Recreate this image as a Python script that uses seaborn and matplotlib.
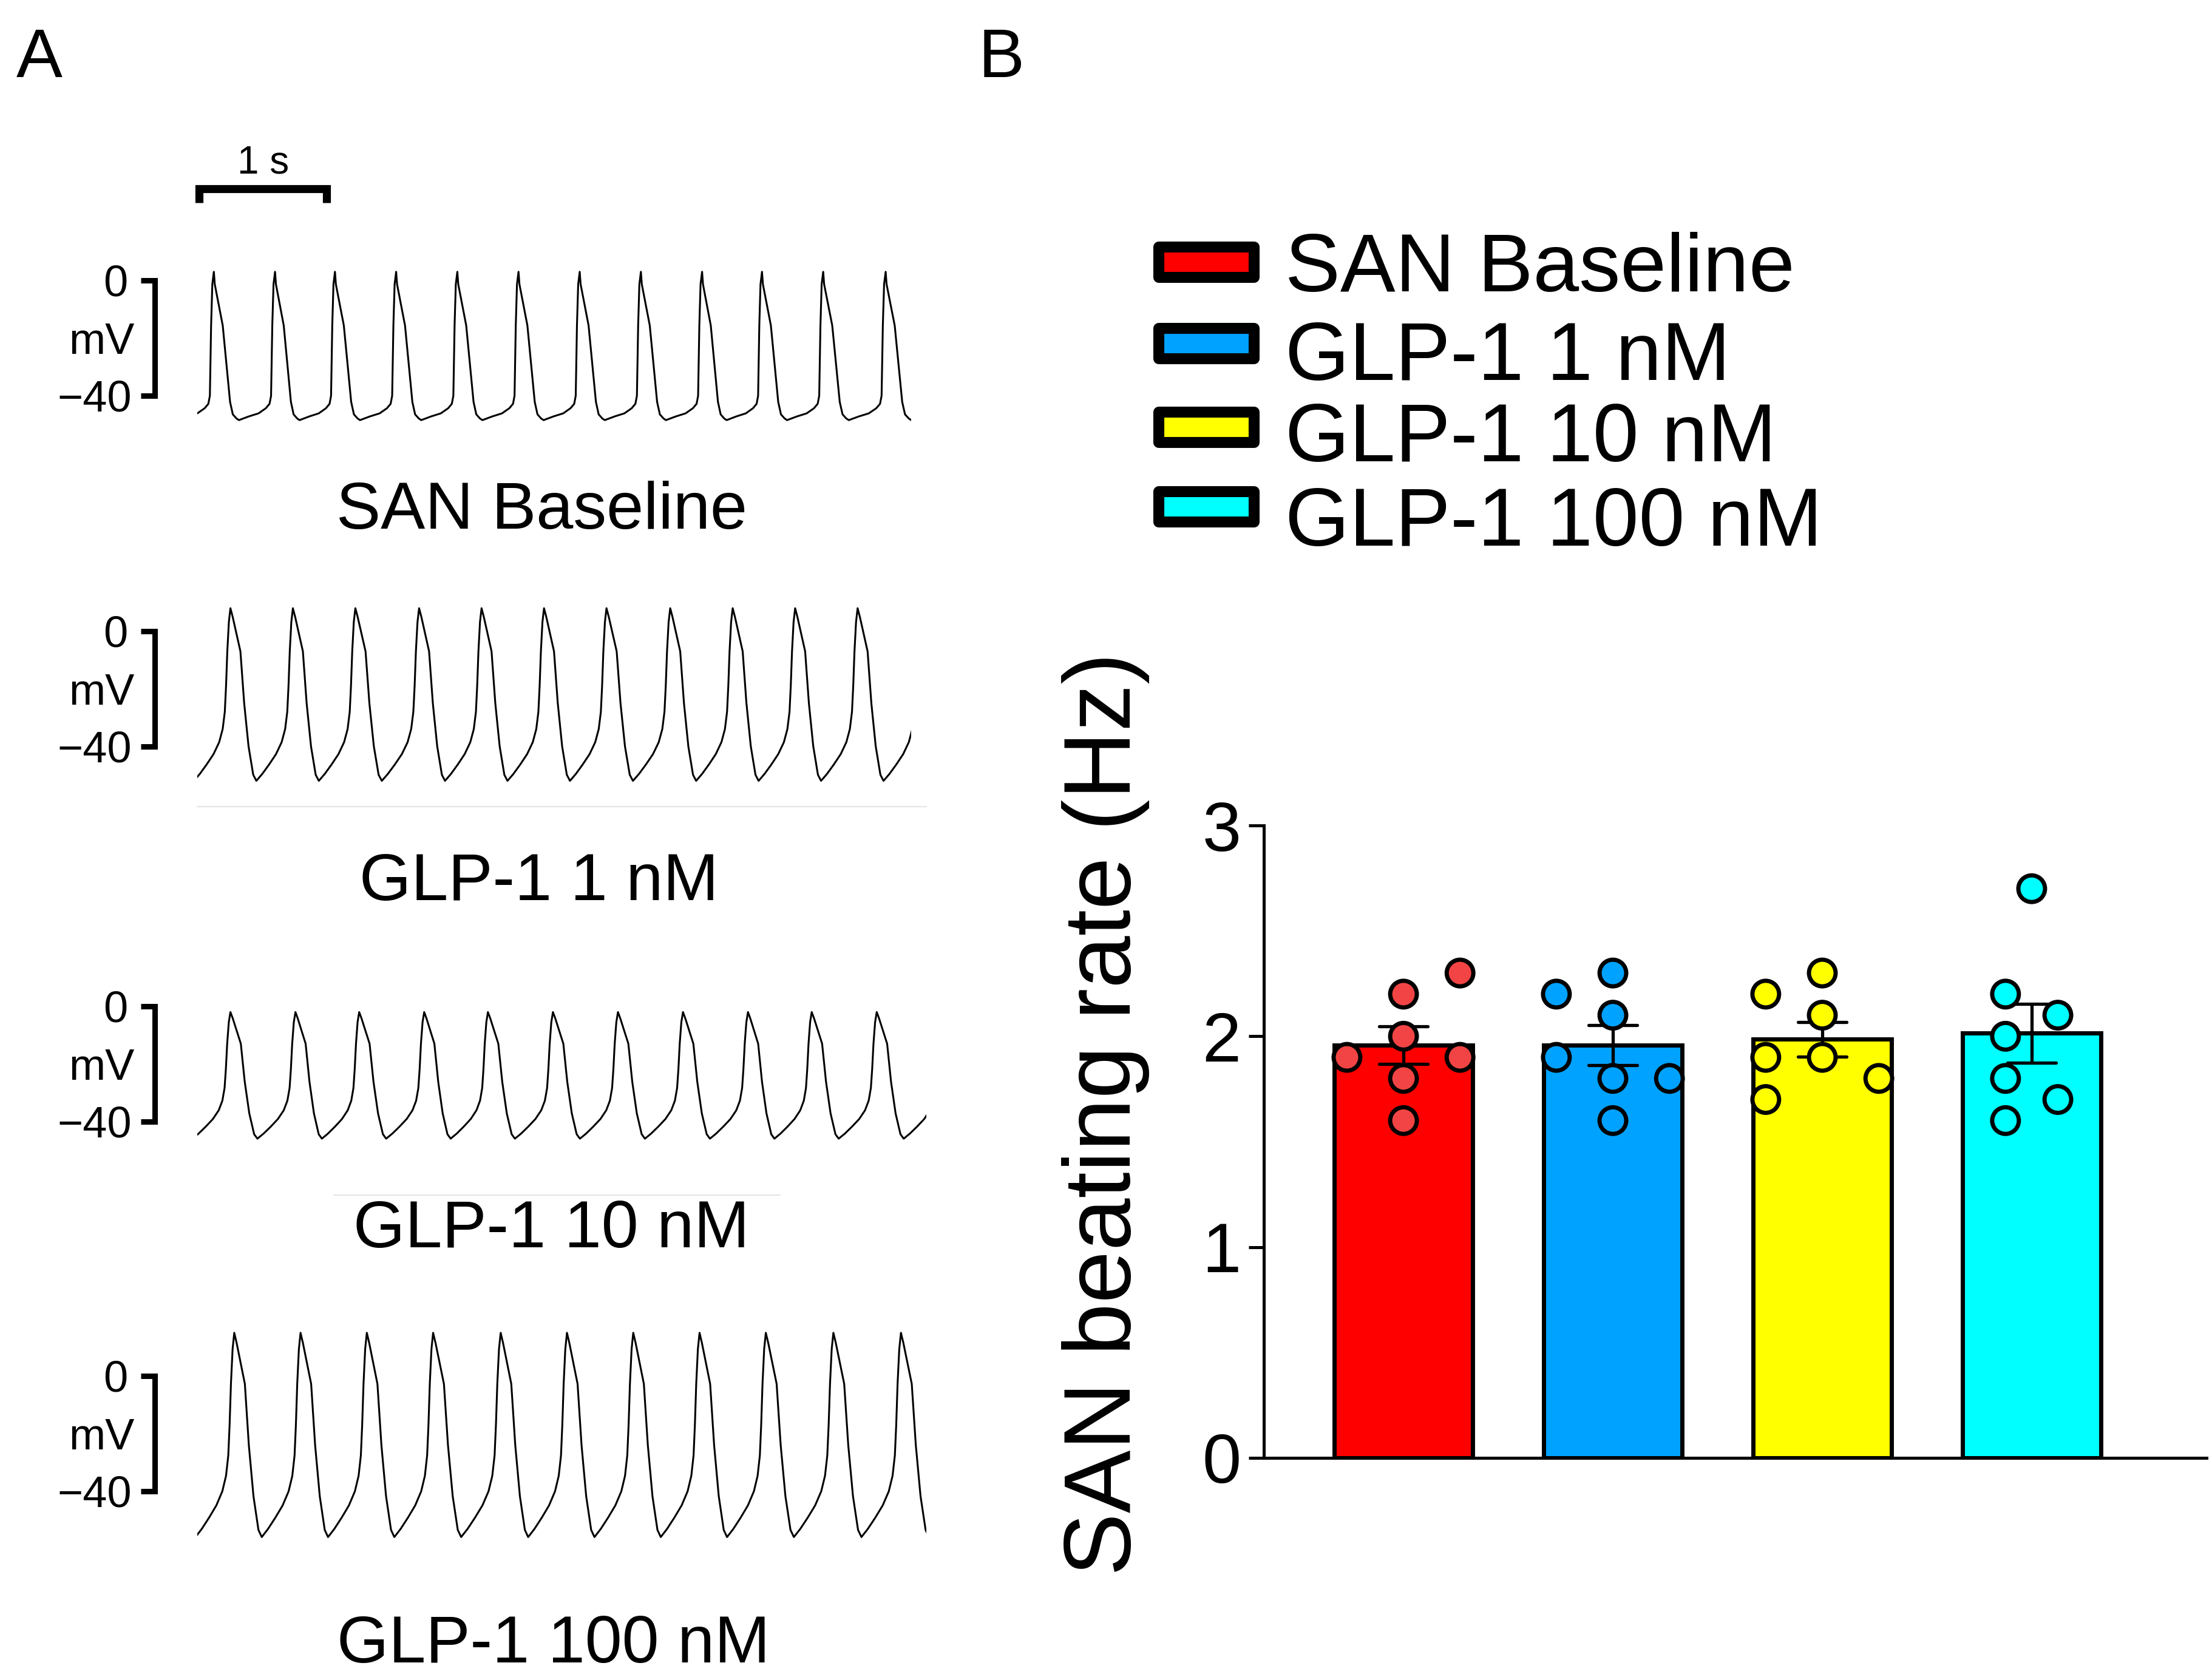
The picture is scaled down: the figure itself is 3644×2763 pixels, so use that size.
import numpy as np
import pandas as pd
import matplotlib
matplotlib.use("Agg")
import matplotlib.pyplot as plt
import matplotlib.transforms as mtrans
from matplotlib.patches import Rectangle
import seaborn as sns

# ------------------------------------------------------------------ data
groups = ["SAN Baseline", "GLP-1 1 nM", "GLP-1 10 nM", "GLP-1 100 nM"]

# Panel B: individual SAN beating rates (Hz)
rate_baseline = [2.3, 2.2, 2.0, 1.9, 1.9, 1.8, 1.6]
rate_1nM = [2.3, 2.2, 2.1, 1.9, 1.8, 1.8, 1.6]
rate_10nM = [2.3, 2.2, 2.1, 1.9, 1.9, 1.8, 1.7]
rate_100nM = [2.7, 2.2, 2.1, 2.0, 1.8, 1.7, 1.6]
y_ticks = [0, 1, 2, 3]

# Panel A: action-potential recordings
# times (s) of each AP peak
peaks_baseline = [0.13, 0.61, 1.08, 1.56, 2.04, 2.52, 3.00, 3.48, 3.96, 4.43, 4.91, 5.40]
peaks_1nM = [0.26, 0.75, 1.24, 1.74, 2.23, 2.72, 3.21, 3.71, 4.20, 4.69, 5.18]
peaks_10nM = [0.26, 0.77, 1.27, 1.78, 2.28, 2.79, 3.30, 3.81, 4.32, 4.82, 5.33]
peaks_100nM = [0.29, 0.81, 1.33, 1.85, 2.38, 2.90, 3.42, 3.94, 4.46, 4.99, 5.52]
trace_duration = [5.60, 5.60, 5.72, 5.72]          # s shown
trace_peak_mv = [3, 8, -2, 15]                      # overshoot (mV)
trace_mdp_mv = [-48, -52, -46, -56]                 # max diastolic potential (mV)

# one beat (peak to next peak):
# phase = fraction of the cycle, level = 0 at MDP, 1 at peak
beat_phase_a = [0.0, 0.015, 0.145, 0.21, 0.265, 0.31, 0.37, 0.41, 0.57, 0.73,
                0.85, 0.91, 0.935, 0.955, 0.975, 1.0]
beat_level_a = [1.0, 0.915, 0.634, 0.352, 0.113, 0.028, 0.0, -0.011, 0.014, 0.035,
                0.07, 0.10, 0.155, 0.634, 0.915, 1.0]
beat_phase_b = [0.0, 0.036, 0.16, 0.22, 0.29, 0.365, 0.415, 0.51, 0.62, 0.73,
                0.82, 0.876, 0.91, 0.93, 0.95, 0.975, 1.0]
beat_level_b = [1.0, 0.95, 0.75, 0.45, 0.20, 0.035, 0.0, 0.04, 0.095, 0.155,
                0.224, 0.30, 0.40, 0.55, 0.75, 0.92, 1.0]

# ------------------------------------------------------------------ style / layout
bar_colors = ["#FF0000", "#00A2FF", "#FFFF00", "#00FFFF"]
dot_colors = ["#F24444", "#00A2FF", "#FFFF00", "#00FFFF"]
# horizontal column offsets of the dots (category units)
dot_offsets = [
    [0.27, 0.0, 0.0, -0.27, 0.27, 0.0, 0.0],
    [0.0, -0.27, 0.0, -0.27, 0.0, 0.27, 0.0],
    [0.0, -0.27, 0.0, -0.27, 0.0, 0.27, -0.27],
    [0.0, -0.125, 0.125, -0.125, -0.125, 0.125, -0.125],
]

sns.set_style("ticks")
plt.rcParams["font.family"] = ["Liberation Sans", "DejaVu Sans"]
plt.rcParams["axes.unicode_minus"] = True
plt.rcParams["text.color"] = "black"
plt.rcParams["axes.labelcolor"] = "black"
plt.rcParams["xtick.color"] = "black"
plt.rcParams["ytick.color"] = "black"
plt.rcParams["axes.edgecolor"] = "black"

W, H = 3644, 2763
DPI = 100
fig = plt.figure(figsize=(W / DPI, H / DPI), dpi=DPI, facecolor="white")


def px_rect(x0, y0, x1, y1):
    return [x0 / W, 1 - y1 / H, (x1 - x0) / W, (y1 - y0) / H]


def fx(x):
    return x / W


def fy(y):
    return 1 - y / H


# ------------------------------------------------------------------ panel A
PX_PER_S = 210.0
PX_PER_MV = 4.74
TRACE_LEFT = 325
zero_mv_px = [462, 1040, 1658, 2267]
label_baseline_px = [871, 1483, 2055, 2739]
label_center_px = [893, 888, 908, 912]
templates = [(beat_phase_a, beat_level_a), (beat_phase_b, beat_level_b),
             (beat_phase_b, beat_level_b), (beat_phase_b, beat_level_b)]
all_peaks = [peaks_baseline, peaks_1nM, peaks_10nM, peaks_100nM]
TOP_MV, BOT_MV = 25, -75

for i in range(4):
    dur = trace_duration[i]
    y0 = zero_mv_px[i]
    ax = fig.add_axes(px_rect(TRACE_LEFT, y0 - TOP_MV * PX_PER_MV,
                              TRACE_LEFT + dur * PX_PER_S, y0 - BOT_MV * PX_PER_MV))
    ax.set_xlim(0, dur)
    ax.set_ylim(BOT_MV, TOP_MV)
    ax.axis("off")

    ph, lv = templates[i]
    pk = all_peaks[i]
    ext = [pk[0] - (pk[1] - pk[0])] + list(pk) + [pk[-1] + (pk[-1] - pk[-2])]
    ts, vs = [], []
    for a, b in zip(ext[:-1], ext[1:]):
        start = 1 if ts else 0
        for p, l in zip(ph[start:], lv[start:]):
            ts.append(a + p * (b - a))
            vs.append(trace_mdp_mv[i] + l * (trace_peak_mv[i] - trace_mdp_mv[i]))
    sns.lineplot(x=ts, y=vs, ax=ax, color="black", linewidth=2.2,
                 sort=False, estimator=None)

    # faint scan artefact lines under traces 2 and 3
    if i == 1:
        ax.plot([0, 5.72], [-61, -61], color="#e4e4e4", lw=1.5, clip_on=False)
    if i == 2:
        ax.plot([1.07, 4.57], [-65.7, -65.7], color="#e4e4e4", lw=1.5, clip_on=False)

    # voltage scale bar
    tr = mtrans.blended_transform_factory(fig.transFigure, ax.transData)
    ax.plot([fx(232), fx(255), fx(255), fx(232)], [0, 0, -40, -40], transform=tr,
            color="black", lw=6.5, clip_on=False, solid_joinstyle="miter",
            solid_capstyle="butt")
    fs_sc = 52
    t_tr = mtrans.offset_copy(tr, fig=fig, y=-0.358 * fs_sc, units="points")
    for txt, mv, xr in [("0", 0, 210), ("mV", -20, 222), ("\u221240", -40, 217)]:
        ax.text(fx(xr), mv, txt, transform=t_tr, ha="right", va="baseline",
                fontsize=fs_sc, clip_on=False, color="black")

    # time scale bar (on the first trace)
    if i == 0:
        trb = mtrans.blended_transform_factory(ax.transData, fig.transFigure)
        t0 = 0.015
        ax.plot([t0, t0, t0 + 1, t0 + 1], [fy(334), fy(311), fy(311), fy(334)],
                transform=trb, color="black", lw=9.5, clip_on=False,
                solid_joinstyle="miter", solid_capstyle="butt")
        ax.text(t0 + 0.5, fy(286), "1 s", transform=trb, ha="center",
                va="baseline", fontsize=46, clip_on=False, color="black")

    fig.text(fx(label_center_px[i]), fy(label_baseline_px[i]), groups[i],
             ha="center", va="baseline", fontsize=79, color="black")

fig.text(fx(27), fy(127), "A", ha="left", va="baseline", fontsize=82, color="black")
fig.text(fx(1612), fy(127), "B", ha="left", va="baseline", fontsize=82, color="black")

# ------------------------------------------------------------------ panel B
axb = fig.add_axes(px_rect(2082, 1360, 3635, 2402))
all_rates = [rate_baseline, rate_1nM, rate_10nM, rate_100nM]
df = pd.DataFrame({
    "group": np.repeat(groups, [len(r) for r in all_rates]),
    "rate": np.concatenate(all_rates),
})
sns.barplot(data=df, x="group", y="rate", hue="group", order=groups,
            hue_order=groups, palette=bar_colors, saturation=1, errorbar="se",
            capsize=0.23, err_kws={"color": "black", "linewidth": 3.8},
            edgecolor="black", linewidth=5, width=0.66, legend=False, ax=axb)

xs, ys, hs = [], [], []
for k, rates in enumerate(all_rates):
    for v, off in zip(rates, dot_offsets[k]):
        xs.append(k + off)
        ys.append(v)
        hs.append(groups[k])
sns.scatterplot(x=xs, y=ys, hue=hs, hue_order=groups, palette=dot_colors,
                s=1000, edgecolor="black", linewidth=5, legend=False,
                ax=axb, zorder=4, clip_on=False)

axb.set_xlim(-0.667, 3.835)
axb.set_ylim(0, 3)
axb.set_yticks(y_ticks)
axb.set_yticklabels([str(t) for t in y_ticks])
axb.set_xticks([])
axb.set_xlabel("")
axb.set_ylabel("")
for s in ["top", "right"]:
    axb.spines[s].set_visible(False)
for s in ["left", "bottom"]:
    axb.spines[s].set_linewidth(3.6)
    axb.spines[s].set_color("black")
axb.tick_params(axis="y", length=18, width=3.6, pad=9, labelsize=83,
                colors="black", labelcolor="black", direction="out")
axb.patch.set_alpha(0)

fig.text(fx(1862), fy(1835), "SAN beating rate (Hz)", rotation=90,
         rotation_mode="anchor", ha="center", va="baseline", fontsize=112,
         color="black")

# legend (drawn as boxes + labels)
patch_centers = [432, 566, 704, 835]
legend_baselines = [480, 626, 760, 899]
for k, g in enumerate(groups):
    rect = Rectangle((fx(1909), fy(patch_centers[k] + 25)), (2066 - 1909) / W, 50 / H,
                     transform=fig.transFigure, facecolor=bar_colors[k],
                     edgecolor="black", linewidth=13, joinstyle="round")
    fig.add_artist(rect)
    fig.text(fx(2117), fy(legend_baselines[k]), g, ha="left", va="baseline",
             fontsize=98, color="black")

fig.savefig("out.png", dpi=DPI, facecolor="white")
